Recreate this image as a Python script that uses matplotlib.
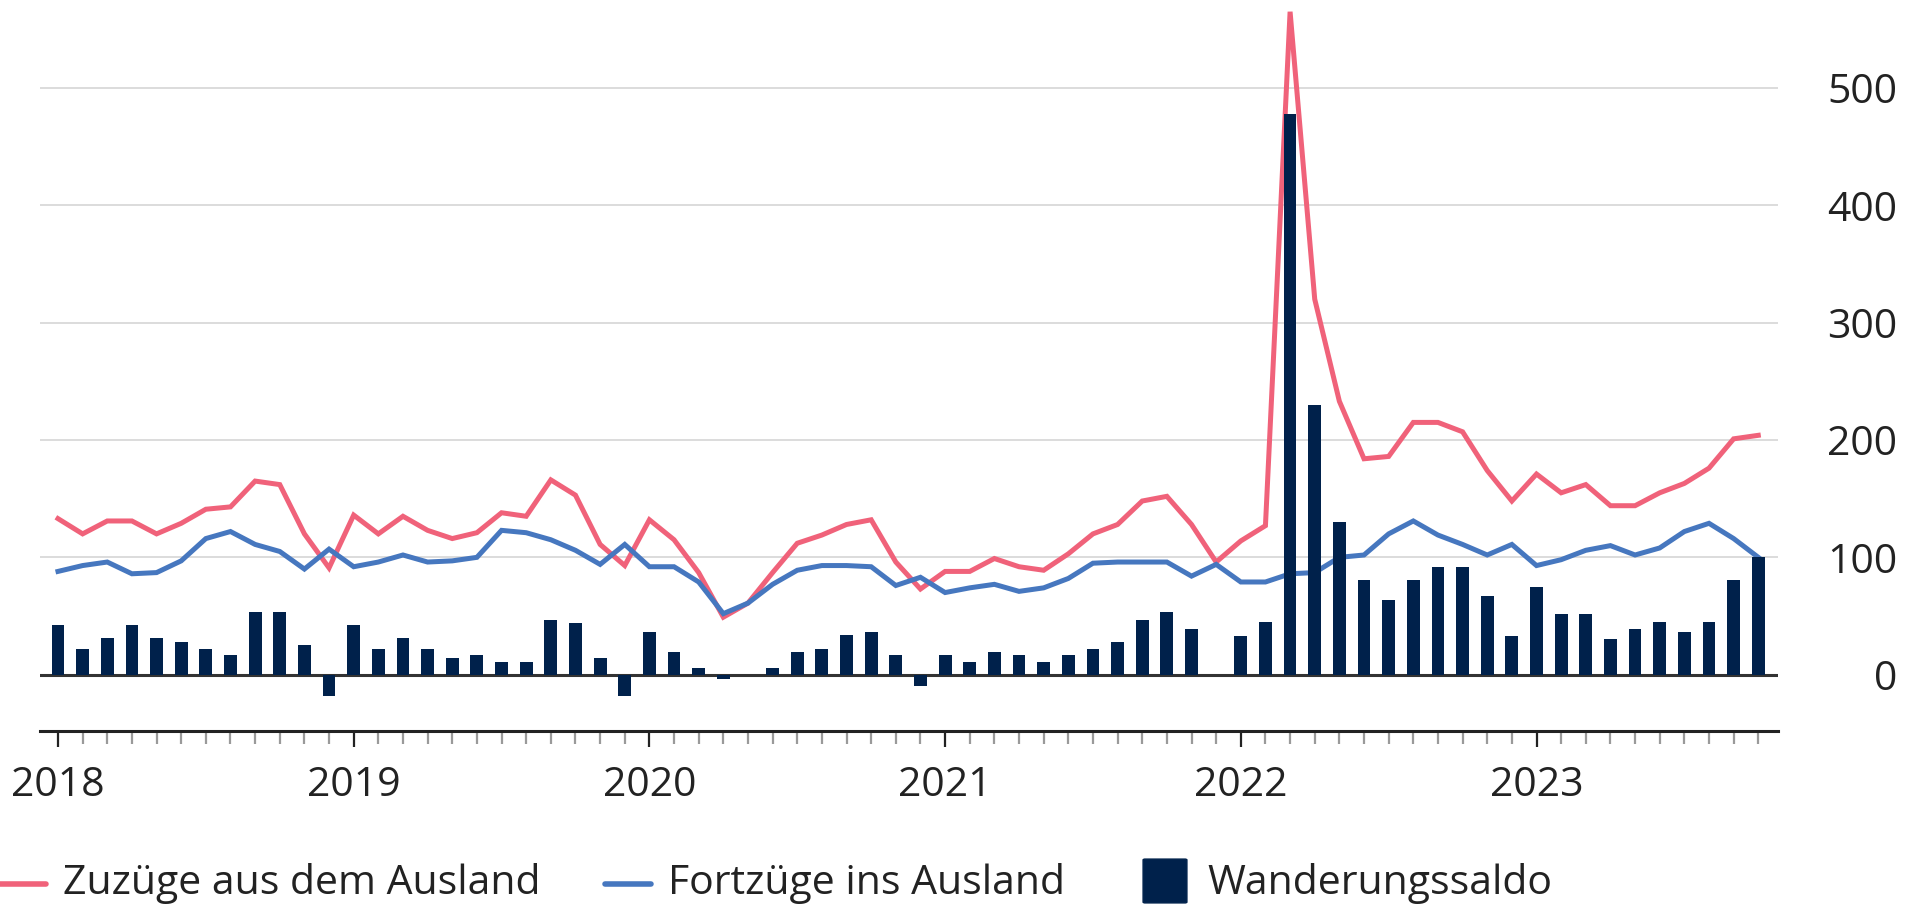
import numpy as np
import matplotlib.pyplot as plt
from matplotlib.lines import Line2D
from matplotlib.patches import FancyBboxPatch

plt.rcParams['font.family'] = ['Open Sans', 'DejaVu Sans']

# Monatswerte Jan 2018 - Okt 2023
jahre = ['2018', '2019', '2020', '2021', '2022', '2023']
zuzuege = [133, 120, 131, 131, 120, 129, 141, 143, 165, 162, 120, 91,
           136, 120, 135, 123, 116, 121, 138, 135, 166, 153, 111, 93,
           132, 115, 87, 49, 61, 87, 112, 119, 128, 132, 96, 73,
           88, 88, 99, 92, 89, 103, 120, 128, 148, 152, 128, 96,
           114, 127, 565, 320, 233, 184, 186, 215, 215, 207, 174, 148,
           171, 155, 162, 144, 144, 155, 163, 176, 201, 204]
fortzuege = [88, 93, 96, 86, 87, 97, 116, 122, 111, 105, 90, 107,
             92, 96, 102, 96, 97, 100, 123, 121, 115, 106, 94, 111,
             92, 92, 79, 52, 61, 77, 89, 93, 93, 92, 76, 83,
             70, 74, 77, 71, 74, 82, 95, 96, 96, 96, 84, 94,
             79, 79, 86, 87, 100, 102, 120, 131, 119, 111, 102, 111,
             93, 98, 106, 110, 102, 108, 122, 129, 116, 100]
saldo = [42, 22, 31, 42, 31, 28, 22, 17, 53, 53, 25, -18,
         42, 22, 31, 22, 14, 17, 11, 11, 47, 44, 14, -18,
         36, 19, 6, -4, 0, 6, 19, 22, 34, 36, 17, -10,
         17, 11, 19, 17, 11, 17, 22, 28, 47, 53, 39, 0,
         33, 45, 478, 230, 130, 81, 64, 81, 92, 92, 67, 33,
         75, 52, 52, 30, 39, 45, 36, 45, 81, 100]
monate = np.arange(len(saldo))

rot = '#f0627a'
blau = '#4677bf'
navy = '#00214b'

W, H = 1916, 908
fig = plt.figure(figsize=(W / 100, H / 100), dpi=100)
ax = fig.add_axes([40 / W, 177 / H, (1778 - 40) / W, 731 / H])
ax.set_xlim(-0.73, 69.8)
ax.set_ylim(-48, 575)

# Gitter
for v in [100, 200, 300, 400, 500]:
    ax.axhline(v, color='#d2d2d2', lw=1.1, zorder=0)
ax.axhline(0, color='#333333', lw=2.2, zorder=1)

ax.plot(monate, zuzuege, color=rot, lw=3.6, zorder=2, solid_joinstyle='miter')
ax.plot(monate, fortzuege, color=blau, lw=3.6, zorder=2, solid_joinstyle='miter')
ax.bar(monate, saldo, width=0.52, color=navy, zorder=3)

for s in ['top', 'left', 'right']:
    ax.spines[s].set_visible(False)
ax.spines['bottom'].set_color('#222222')
ax.spines['bottom'].set_linewidth(2.2)

# x-Achse
ax.set_xticks(np.arange(0, len(saldo), 12))
ax.set_xticklabels(jahre)
ax.set_xticks(monate, minor=True)
ax.tick_params(axis='x', which='major', length=11.5, width=1.6, color='#222222',
               labelsize=29.5, labelcolor='#222222', pad=13)
ax.tick_params(axis='x', which='minor', length=9.5, width=1.6, color='#9a9a9a')

# y-Achse rechts
ax.yaxis.tick_right()
ax.set_yticks([0, 100, 200, 300, 400, 500])
ax.tick_params(axis='y', length=0, labelsize=29.5, labelcolor='#222222', pad=85.7)
for lab in ax.get_yticklabels():
    lab.set_horizontalalignment('right')

# Legende
ly = 1 - 884 / H
fs = 29.5
fig.add_artist(Line2D([0, 46 / W], [ly, ly], color=rot, lw=4, solid_capstyle='round'))
fig.text(63 / W, ly, 'Zuzüge aus dem Ausland', fontsize=fs, va='center', color='#222222')
fig.add_artist(Line2D([605 / W, 651 / W], [ly, ly], color=blau, lw=4, solid_capstyle='round'))
fig.text(668 / W, ly, 'Fortzüge ins Ausland', fontsize=fs, va='center', color='#222222')
fig.add_artist(FancyBboxPatch((1145 / W, 1 - 902 / H), 40 / W, 42 / H,
                              boxstyle='round,pad=0.001', color=navy,
                              transform=fig.transFigure))
fig.text(1207 / W, ly, 'Wanderungssaldo', fontsize=fs, va='center', color='#222222')

fig.savefig('out.png', dpi=100)
